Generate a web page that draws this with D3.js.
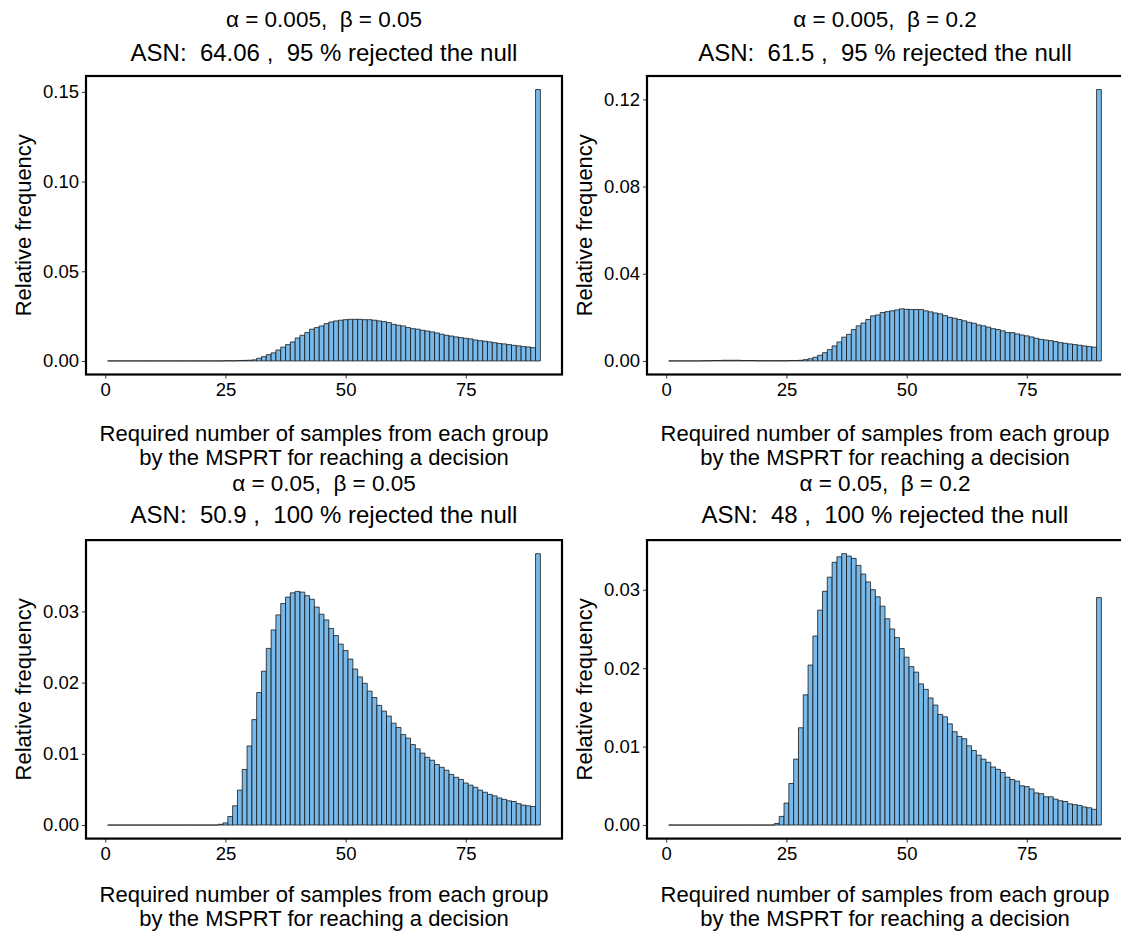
<!DOCTYPE html>
<html>
<head>
<meta charset="utf-8">
<script src="https://cdn.jsdelivr.net/npm/d3@7"></script>
<style>
  html, body { margin: 0; padding: 0; background: #fff; }
  text { font-family: "Liberation Sans", Arial, sans-serif; fill: #000; white-space: pre; }
</style>
</head>
<body>
<svg id="chart" width="1121" height="931"></svg>
<script>
// sample sizes on the x axis (one bar each)
const samples = d3.range(1, 91);
const xTicks = [0, 25, 50, 75];

// relative frequency, alpha = 0.005, beta = 0.05
const freqA = [
  0, 0, 0, 0, 0, 0, 0, 0, 0, 0,
  0, 0, 0, 0, 0, 0, 0, 0, 0, 0,
  0, 0, 0, 0, 0.0001, 0.0001, 0.0001, 0.0002, 0.0003, 0.0004,
  0.0006, 0.0015, 0.0024, 0.0035, 0.0045, 0.0061, 0.0077, 0.0091, 0.0106, 0.0128,
  0.0143, 0.0158, 0.0177, 0.0186, 0.0195, 0.0208, 0.0217, 0.0223, 0.0227, 0.0230,
  0.0232, 0.0232, 0.0232, 0.0230, 0.0230, 0.0227, 0.0223, 0.0219, 0.0214, 0.0204,
  0.0199, 0.0195, 0.0186, 0.0180, 0.0177, 0.0171, 0.0167, 0.0162, 0.0156, 0.0149,
  0.0143, 0.0139, 0.0134, 0.0130, 0.0126, 0.0123, 0.0117, 0.0113, 0.0110, 0.0106,
  0.0102, 0.0097, 0.0095, 0.0091, 0.0087, 0.0084, 0.0080, 0.0078, 0.0074, 0.1513
];

// alpha = 0.005, beta = 0.2
const freqB = [
  0, 0, 0, 0, 0, 0, 0, 0.0001, 0.0001, 0.0002,
  0.0002, 0.0003, 0.0003, 0.0003, 0.0003, 0.0002, 0.0002, 0.0002, 0.0001, 0.0001,
  0.0001, 0.0001, 0.0001, 0.0001, 0.0001, 0.0002, 0.0002, 0.0003, 0.0006, 0.0010,
  0.0017, 0.0026, 0.0038, 0.0052, 0.0069, 0.0087, 0.0109, 0.0122, 0.0144, 0.0161,
  0.0174, 0.0190, 0.0207, 0.0211, 0.0222, 0.0226, 0.0230, 0.0234, 0.0239, 0.0237,
  0.0236, 0.0236, 0.0236, 0.0230, 0.0225, 0.0220, 0.0216, 0.0208, 0.0200, 0.0196,
  0.0190, 0.0184, 0.0177, 0.0173, 0.0165, 0.0161, 0.0155, 0.0148, 0.0144, 0.0138,
  0.0130, 0.0130, 0.0124, 0.0119, 0.0115, 0.0110, 0.0104, 0.0099, 0.0096, 0.0093,
  0.0089, 0.0084, 0.0081, 0.0078, 0.0075, 0.0072, 0.0069, 0.0066, 0.0063, 0.1245
];

// alpha = 0.05, beta = 0.05
const freqC = [
  0, 0, 0, 0, 0, 0, 0, 0, 0, 0,
  0, 0, 0, 0, 0, 0, 0, 0, 0, 0,
  0, 0, 0, 0.0001, 0.0003, 0.0012, 0.0027, 0.0049, 0.0078, 0.0111,
  0.0148, 0.0186, 0.0216, 0.0248, 0.0274, 0.0295, 0.0311, 0.0320, 0.0326, 0.0328,
  0.0327, 0.0322, 0.0317, 0.0306, 0.0296, 0.0288, 0.0276, 0.0266, 0.0254, 0.0245,
  0.0233, 0.0219, 0.0208, 0.0199, 0.0188, 0.0179, 0.0168, 0.0160, 0.0153, 0.0143,
  0.0137, 0.0127, 0.0122, 0.0113, 0.0107, 0.0101, 0.0095, 0.0091, 0.0085, 0.0081,
  0.0077, 0.0071, 0.0067, 0.0064, 0.0059, 0.0056, 0.0053, 0.0049, 0.0046, 0.0043,
  0.0041, 0.0038, 0.0036, 0.0034, 0.0033, 0.0030, 0.0028, 0.0027, 0.0026, 0.0381
];

// alpha = 0.05, beta = 0.2
const freqD = [
  0, 0, 0, 0, 0, 0, 0, 0, 0, 0,
  0, 0, 0, 0, 0, 0, 0, 0, 0, 0,
  0, 0, 0.0002, 0.0011, 0.0028, 0.0053, 0.0084, 0.0124, 0.0166, 0.0204,
  0.0241, 0.0274, 0.0298, 0.0316, 0.0335, 0.0342, 0.0346, 0.0343, 0.0340, 0.0331,
  0.0320, 0.0310, 0.0300, 0.0291, 0.0279, 0.0263, 0.0250, 0.0239, 0.0225, 0.0214,
  0.0202, 0.0195, 0.0180, 0.0173, 0.0162, 0.0153, 0.0141, 0.0138, 0.0129, 0.0119,
  0.0113, 0.0110, 0.0101, 0.0095, 0.0089, 0.0084, 0.0080, 0.0074, 0.0071, 0.0067,
  0.0061, 0.0058, 0.0056, 0.0050, 0.0049, 0.0046, 0.0041, 0.0040, 0.0036, 0.0036,
  0.0033, 0.0031, 0.0030, 0.0027, 0.0026, 0.0025, 0.0023, 0.0022, 0.0020, 0.0290
];

const titlesTop = ["α = 0.005,  β = 0.05", "α = 0.005,  β = 0.2", "α = 0.05,  β = 0.05", "α = 0.05,  β = 0.2"];
const titlesAsn = ["ASN:  64.06 ,  95 % rejected the null", "ASN:  61.5 ,  95 % rejected the null",
                   "ASN:  50.9 ,  100 % rejected the null", "ASN:  48 ,  100 % rejected the null"];
const yTicksA = [0, 0.05, 0.10, 0.15];
const yTicksB = [0, 0.04, 0.08, 0.12];
const yTicksC = [0, 0.01, 0.02, 0.03];
const yTicksD = [0, 0.01, 0.02, 0.03];

const panels = [
  { freq: freqA, yTicks: yTicksA, col: 0, row: 0 },
  { freq: freqB, yTicks: yTicksB, col: 1, row: 0 },
  { freq: freqC, yTicks: yTicksC, col: 0, row: 1 },
  { freq: freqD, yTicks: yTicksD, col: 1, row: 1 }
];

// layout
const colLeft = [86, 647];
const rowTop = [76, 540.1];
const titleY = [[19, 52], [483, 514]];
const xTitleY = [[433.5, 457.5], [894, 918]];
const pw = 476, ph = 298.5;

const svg = d3.select('#chart');
svg.append('rect').attr('width', 1121).attr('height', 931).attr('fill', '#fff');

panels.forEach((p, i) => {
  const left = colLeft[p.col], top = rowTop[p.row];
  const cx = left + pw / 2;
  const maxV = d3.max(p.freq);

  const x = d3.scaleLinear().domain([-4, 95]).range([left, left + pw]);
  const y = d3.scaleLinear().domain([-0.05 * maxV, 1.05 * maxV]).range([top + ph, top]);

  const g = svg.append('g');

  // bars as paths so zero-height bins still draw their outline
  g.selectAll('path.bar')
    .data(samples.map((s, k) => ({ s, v: p.freq[k] })))
    .enter().append('path')
    .attr('class', 'bar')
    .attr('d', d => {
      const x0 = x(d.s - 0.5), x1 = x(d.s + 0.5), y0 = y(0), y1 = y(d.v);
      return `M${x0},${y0}V${y1}H${x1}V${y0}Z`;
    })
    .attr('fill', '#78b9ea')
    .attr('stroke', '#111')
    .attr('stroke-opacity', 0.85)
    .attr('stroke-width', 0.9);

  // axes
  const yAxis = g.append('g')
    .attr('transform', `translate(${left},0)`)
    .call(d3.axisLeft(y).tickValues(p.yTicks).tickFormat(d3.format('.2f')).tickSize(4).tickPadding(3));
  const xAxis = g.append('g')
    .attr('transform', `translate(0,${top + ph})`)
    .call(d3.axisBottom(x).tickValues(xTicks).tickSize(4).tickPadding(4));
  [yAxis, xAxis].forEach(a => {
    a.select('.domain').remove();
    a.selectAll('.tick line').attr('stroke', '#333').attr('stroke-width', 1);
    a.selectAll('.tick text').attr('font-size', 18.5).attr('fill', '#1a1a1a')
      .attr('font-family', '"Liberation Sans", Arial, sans-serif');
  });

  // panel border
  g.append('rect')
    .attr('x', left).attr('y', top).attr('width', pw).attr('height', ph)
    .attr('fill', 'none').attr('stroke', '#000').attr('stroke-width', 2.2);

  // titles
  g.append('text').attr('x', cx).attr('y', titleY[p.row][0]).attr('dominant-baseline', 'central')
    .attr('text-anchor', 'middle').attr('font-size', 22.5).text(titlesTop[i]);
  g.append('text').attr('x', cx).attr('y', titleY[p.row][1]).attr('dominant-baseline', 'central')
    .attr('text-anchor', 'middle').attr('font-size', 24).text(titlesAsn[i]);

  // axis titles
  g.append('text').attr('x', cx).attr('y', xTitleY[p.row][0]).attr('dominant-baseline', 'central')
    .attr('text-anchor', 'middle').attr('font-size', 22).text('Required number of samples from each group');
  g.append('text').attr('x', cx).attr('y', xTitleY[p.row][1]).attr('dominant-baseline', 'central')
    .attr('text-anchor', 'middle').attr('font-size', 22).text('by the MSPRT for reaching a decision');
  g.append('text')
    .attr('transform', `translate(${left - 63},${top + ph / 2}) rotate(-90)`)
    .attr('dominant-baseline', 'central').attr('text-anchor', 'middle')
    .attr('font-size', 22).text('Relative frequency');
});
</script>
</body>
</html>
